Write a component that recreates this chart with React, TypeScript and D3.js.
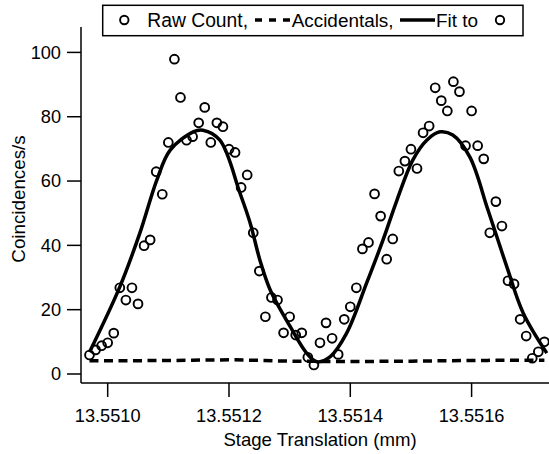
import React from "react";
import * as d3 from "d3";

// ---- data ----
const stagePositions = [
  13.55097, 13.55098, 13.55099, 13.551, 13.55101, 13.55102, 13.55103, 13.55104, 13.55105, 13.55106,
  13.55107, 13.55108, 13.55109, 13.5511, 13.55111, 13.55112, 13.55113, 13.55114, 13.55115, 13.55116,
  13.55117, 13.55118, 13.55119, 13.5512, 13.55121, 13.55122, 13.55123, 13.55124, 13.55125, 13.55126,
  13.55127, 13.55128, 13.55129, 13.5513, 13.55131, 13.55132, 13.55133, 13.55134, 13.55135, 13.55136,
  13.55137, 13.55138, 13.55139, 13.5514, 13.55141, 13.55142, 13.55143, 13.55144, 13.55145, 13.55146,
  13.55147, 13.55148, 13.55149, 13.5515, 13.55151, 13.55152, 13.55153, 13.55154, 13.55155, 13.55156,
  13.55157, 13.55158, 13.55159, 13.5516, 13.55161, 13.55162, 13.55163, 13.55164, 13.55165, 13.55166,
  13.55167, 13.55168, 13.55169, 13.5517, 13.55171, 13.55172,
];
const rawCounts = [
  5.9, 7.5, 8.8, 9.7, 12.7, 26.8, 23.0, 26.8, 21.8, 39.9,
  41.7, 62.9, 55.9, 72.0, 97.9, 86.0, 72.7, 73.8, 78.1, 82.9,
  72.0, 78.1, 76.9, 69.9, 68.9, 58.0, 61.9, 43.9, 32.0, 17.8,
  23.8, 23.0, 12.8, 17.8, 12.1, 12.8, 5.2, 2.8, 9.7, 15.9,
  11.1, 6.1, 17.0, 20.9, 26.8, 38.9, 40.9, 56.0, 49.1, 35.7,
  42.0, 63.1, 66.2, 69.9, 63.9, 75.0, 77.1, 89.0, 85.0, 81.8,
  90.9, 87.8, 71.0, 81.8, 71.0, 66.9, 43.9, 53.6, 46.0, 29.0,
  28.0, 17.0, 11.8, 4.9, 6.9, 10.0,
];
const accidentalPositions = [13.55097, 13.5511, 13.5512, 13.5513, 13.5514, 13.5515, 13.5516, 13.55172];
const accidentalValues = [4.1, 4.2, 4.4, 4.0, 3.9, 4.0, 4.2, 4.3];
const fitPositions = [
  13.55097, 13.55102, 13.551053, 13.551081, 13.551103, 13.551141, 13.551157, 13.551185, 13.551218,
  13.551235, 13.551251, 13.551268, 13.551301, 13.551328, 13.551345, 13.551367, 13.551394, 13.551427,
  13.551454, 13.551477, 13.551503, 13.551526, 13.551548, 13.551569, 13.551597, 13.551627, 13.551658,
  13.551685, 13.551724,
];
const fitValues = [
  6.8, 27.1, 43.8, 60.3, 69.6, 75.3, 75.8, 72.7, 56.3,
  46.9, 35.4, 26.1, 14.7, 6.5, 3.8, 5.4, 12.7, 28.3,
  41.7, 54.1, 66.5, 72.7, 75.3, 74.3, 67.5, 51.0, 33.4,
  19.0, 6.5,
];
const xTicks = [13.551, 13.5512, 13.5514, 13.5516];
const yTicks = [0, 20, 40, 60, 80, 100];
const xDomain = [13.550956, 13.5517441];
const yDomain = [-2.8, 107.9];
const xTitle = "Stage Translation (mm)";
const yTitle = "Coincidences/s";
const legendLabels = ["Raw Count,", "Accidentals,", "Fit to"];

const W = 549;
const H = 454;
const FONT = "'Liberation Sans', Arial, sans-serif";

export default function App() {
  const x = d3.scaleLinear().domain(xDomain).range([81, 559]);
  const y = d3.scaleLinear().domain(yDomain).range([383, 27]);

  const accLine = d3
    .line<number>()
    .x((_, i) => x(accidentalPositions[i]))
    .y((d) => y(d))
    .curve(d3.curveMonotoneX)(accidentalValues);
  const fitLine = d3
    .line<number>()
    .x((_, i) => x(fitPositions[i]))
    .y((d) => y(d))
    .curve(d3.curveCatmullRom.alpha(0.5))(fitValues);

  const fmt = d3.format(".4f");
  const left = x.range()[0];
  const bottom = y.range()[0];
  const top = y.range()[1];

  return (
    <div style={{ position: "fixed", left: 0, top: 0 }}>
      <svg width={W} height={H} style={{ display: "block", background: "#fff" }} fontFamily={FONT}>
        <defs>
          <clipPath id="plot">
            <rect x={left} y={0} width={W - left} height={bottom} />
          </clipPath>
        </defs>
        <g clipPath="url(#plot)">
          <path d={accLine || ""} fill="none" stroke="#000" strokeWidth={3.5} strokeDasharray="9 5.5" />
          <path d={fitLine || ""} fill="none" stroke="#000" strokeWidth={3.5} strokeLinejoin="round" />
          {rawCounts.map((v, i) => (
            <circle key={i} cx={x(stagePositions[i])} cy={y(v)} r={4.4} fill="none" stroke="#000" strokeWidth={1.9} />
          ))}
        </g>
        {/* axes */}
        <line x1={left} x2={left} y1={top} y2={bottom} stroke="#000" strokeWidth={1.5} />
        <line x1={left} x2={W + 20} y1={bottom} y2={bottom} stroke="#000" strokeWidth={1.5} />
        {yTicks.map((t) => (
          <g key={t}>
            <line x1={left - 14} x2={left} y1={y(t)} y2={y(t)} stroke="#000" strokeWidth={1.5} />
            <text x={left - 20} y={y(t)} dy="0.35em" textAnchor="end" fontSize={18.2}>
              {t}
            </text>
          </g>
        ))}
        {xTicks.map((t) => (
          <g key={t}>
            <line x1={x(t)} x2={x(t)} y1={bottom} y2={bottom + 14} stroke="#000" strokeWidth={1.5} />
            <text x={x(t)} y={421.7} textAnchor="middle" fontSize={18.2}>
              {fmt(t)}
            </text>
          </g>
        ))}
        <text x={(x.range()[0] + x.range()[1]) / 2} y={446} textAnchor="middle" fontSize={18.6}>
          {xTitle}
        </text>
        <text transform={`translate(24.5, ${(top + bottom) / 2 - 6}) rotate(-90)`} textAnchor="middle" fontSize={18.8}>
          {yTitle}
        </text>
        {/* legend */}
        <g>
          <rect x={102.7} y={5.3} width={420.3} height={30.4} fill="#fff" stroke="#000" strokeWidth={1.5} />
          <circle cx={124.3} cy={20} r={4.2} fill="none" stroke="#000" strokeWidth={1.9} />
          <text x={147.3} y={27} fontSize={19.3}>{legendLabels[0]}</text>
          <line x1={255} x2={291} y1={20} y2={20} stroke="#000" strokeWidth={3.5} strokeDasharray="7 7" />
          <text x={291.7} y={27} fontSize={18.9}>{legendLabels[1]}</text>
          <line x1={400} x2={435} y1={20} y2={20} stroke="#000" strokeWidth={3.5} />
          <text x={436} y={27} fontSize={18.9}>{legendLabels[2]}</text>
          <circle cx={500} cy={20} r={4.2} fill="none" stroke="#000" strokeWidth={1.9} />
        </g>
      </svg>
    </div>
  );
}
